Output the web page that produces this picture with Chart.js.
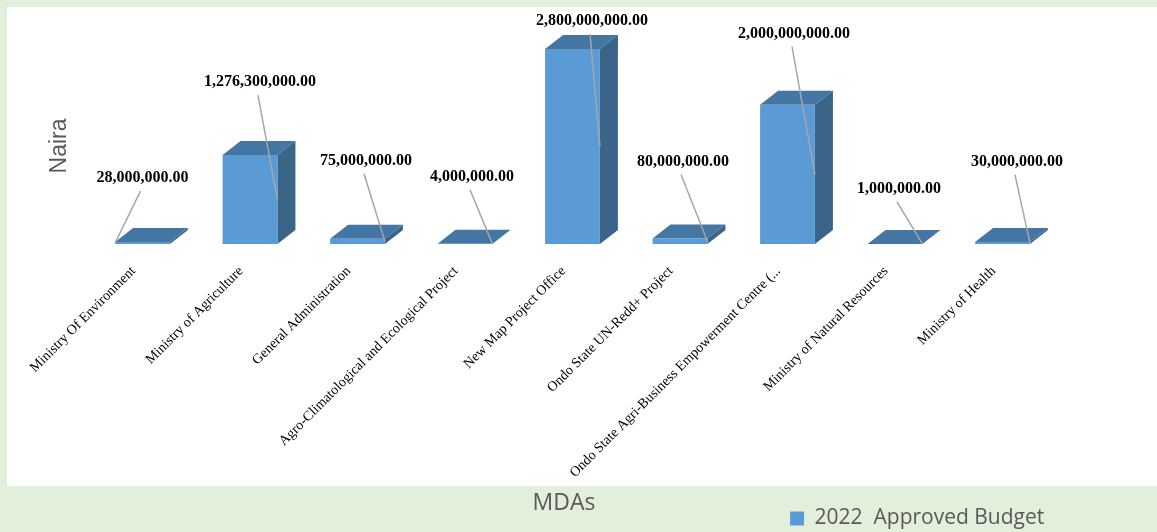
<!DOCTYPE html>
<html>
<head>
<meta charset="utf-8">
<title>2022 Approved Budget by MDA</title>
<script src="https://cdn.jsdelivr.net/npm/chart.js@4/dist/chart.umd.min.js"></script>
<style>
  html, body { margin: 0; padding: 0; background: #e2efda; }
  canvas { display: block; }
</style>
</head>
<body>
<canvas id="budgetChart" width="1157" height="532"></canvas>
<script>
const mdas = [
  'Ministry Of Environment',
  'Ministry of Agriculture',
  'General Administration',
  'Agro-Climatological and Ecological Project',
  'New Map Project Office',
  'Ondo State UN-Redd+ Project',
  'Ondo State Agri-Business Empowerment Centre (...',
  'Ministry of Natural Resources',
  'Ministry of Health'
];
const approvedBudget = [28000000, 1276300000, 75000000, 4000000, 2800000000, 80000000, 2000000000, 1000000, 30000000];
const seriesName = '2022  Approved Budget';

// callout placement for each value label, relative to the top centre of its bar
const calloutDx = [0, 10, 8.5, 7, 19.5, 3, 6.5, 4, 14.5];
const calloutDy = [-64, -73, -78, -67, -28, -77, -71, -55, -80];

const DEPTH_X = 18;
const DEPTH_Y = 14;

function poly(ctx, pts, fill) {
  ctx.beginPath();
  pts.forEach(([x, y], i) => (i ? ctx.lineTo(x, y) : ctx.moveTo(x, y)));
  ctx.closePath();
  ctx.fillStyle = fill;
  ctx.fill();
}

const panelBackground = {
  id: 'panelBackground',
  beforeDraw(chart) {
    const { ctx } = chart;
    ctx.save();
    ctx.fillStyle = '#e2efda';
    ctx.fillRect(0, 0, 1157, 532);
    ctx.fillStyle = '#ffffff';
    ctx.fillRect(7, 7, 1150, 479);
    ctx.restore();
  }
};

// side and top faces go on behind the flat bar Chart.js draws
const barDepth = {
  id: 'barDepth',
  beforeDatasetsDraw(chart) {
    const { ctx } = chart;
    chart.getDatasetMeta(0).data.forEach((bar) => {
      const left = bar.x - bar.width / 2;
      const right = bar.x + bar.width / 2;
      const top = bar.y;
      const base = bar.base;
      poly(ctx, [[right, top], [right + DEPTH_X, top - DEPTH_Y], [right + DEPTH_X, base - DEPTH_Y], [right, base]], '#3a6488');
      poly(ctx, [[left, top], [left + DEPTH_X, top - DEPTH_Y], [right + DEPTH_X, top - DEPTH_Y], [right, top]], '#4476a3');
    });
  }
};

const valueCallouts = {
  id: 'valueCallouts',
  afterDatasetsDraw(chart) {
    const { ctx } = chart;
    ctx.save();
    chart.getDatasetMeta(0).data.forEach((bar, i) => {
      const labelX = bar.x + calloutDx[i];
      const labelY = bar.y + calloutDy[i];
      // first callout lands on the near left corner, the rest on the right edge
      const endX = i === 0 ? bar.x - bar.width / 2 : bar.x + bar.width / 2;
      const endY = (bar.y + bar.base) / 2;
      ctx.strokeStyle = '#a6a6a6';
      ctx.lineWidth = 1.5;
      ctx.beginPath();
      ctx.moveTo(labelX - 2, labelY + 13);
      ctx.lineTo(endX, endY);
      ctx.stroke();
      ctx.fillStyle = '#000000';
      ctx.font = 'bold 16px "Liberation Serif"';
      ctx.textAlign = 'center';
      ctx.textBaseline = 'middle';
      ctx.fillText(approvedBudget[i].toLocaleString('en-US', { minimumFractionDigits: 2 }), labelX, labelY);
    });
    ctx.restore();
  }
};

const axisTitles = {
  id: 'axisTitles',
  afterDraw(chart) {
    const { ctx } = chart;
    ctx.save();
    ctx.fillStyle = '#595959';
    ctx.textAlign = 'center';
    ctx.textBaseline = 'middle';
    ctx.font = '23px "Open Sans"';
    ctx.fillText('MDAs', 564, 503);
    ctx.translate(60, 146);
    ctx.rotate(-Math.PI / 2);
    ctx.font = '23px "Liberation Sans"';
    ctx.fillText('Naira', 0, 0);
    ctx.restore();
  }
};

new Chart(document.getElementById('budgetChart'), {
  type: 'bar',
  data: {
    labels: mdas,
    datasets: [{
      label: seriesName,
      data: approvedBudget,
      backgroundColor: '#5b9bd5',
      borderWidth: 0,
      barPercentage: 0.51,
      categoryPercentage: 1
    }]
  },
  options: {
    responsive: false,
    animation: false,
    layout: { padding: { left: 88.75, right: 100.75, top: 35, bottom: -7 } },
    scales: {
      x: {
        grid: { display: false, drawTicks: false },
        border: { display: false },
        ticks: {
          autoSkip: false,
          minRotation: 45,
          maxRotation: 45,
          padding: 19,
          labelOffset: -9,
          color: '#000000',
          font: { family: '"Liberation Serif"', size: 14 }
        },
        afterFit(scale) {
          scale.height = 252;
          scale.paddingLeft = 0;
          scale.paddingRight = 0;
        }
      },
      y: { display: false, min: 0, max: 3000000000 }
    },
    plugins: {
      tooltip: { enabled: false },
      legend: {
        position: 'bottom',
        align: 'end',
        labels: {
          boxWidth: 14,
          boxHeight: 14,
          padding: 12,
          color: '#595959',
          font: { family: '"Open Sans"', size: 21 }
        }
      }
    }
  },
  plugins: [panelBackground, barDepth, valueCallouts, axisTitles]
});
</script>
</body>
</html>
